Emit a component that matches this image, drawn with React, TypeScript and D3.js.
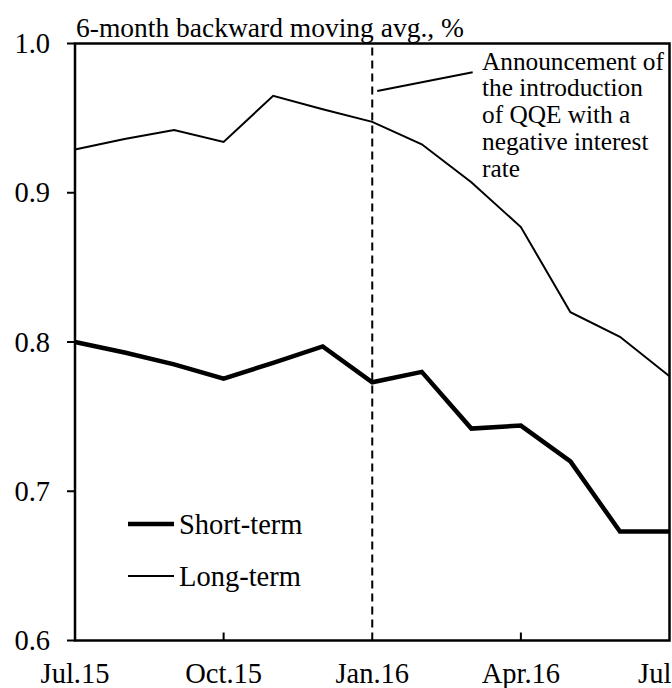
import React from "react";
import * as d3 from "d3";

const months = ["Jul.15","Aug.15","Sep.15","Oct.15","Nov.15","Dec.15","Jan.16","Feb.16","Mar.16","Apr.16","May.16","Jun.16","Jul.16"];
const shortTerm = [0.800, 0.793, 0.785, 0.7755, 0.786, 0.797, 0.773, 0.780, 0.742, 0.744, 0.720, 0.673, 0.673];
const longTerm = [0.929, 0.936, 0.942, 0.934, 0.965, 0.956, 0.9475, 0.9325, 0.907, 0.877, 0.820, 0.8035, 0.777];
const xTickIdx = [0, 3, 6, 9, 12];
const xTickLabels = ["Jul.15", "Oct.15", "Jan.16", "Apr.16", "Jul.16"];
const yTicks = [0.6, 0.7, 0.8, 0.9, 1.0];
const title = "6-month backward moving avg., %";
const annotationLines = ["Announcement of", "the introduction", "of QQE with a", "negative interest", "rate"];
const eventIdx = 6;
const legendItems = [
  { label: "Short-term", width: 4.5 },
  { label: "Long-term", width: 2 },
];

const W = 672, H = 688;
const FONT = "Liberation Serif, Times New Roman, serif";

export default function App() {
  const x = d3.scaleLinear().domain([0, 12]).range([75, 669.5]);
  const y = d3.scaleLinear().domain([0.6, 1.0]).range([640.5, 43.5]);
  const line = d3.line<number>().x((_, i) => x(i)).y((d) => y(d));
  const x0 = x(0), x1 = x(12), y0 = y(0.6), y1 = y(1.0);

  return (
    <svg width={W} height={H} style={{ position: "absolute", left: 0, top: 0, background: "#fff" }} fontFamily={FONT}>
      <rect x={0} y={0} width={W} height={H} fill="#fff" />
      <line x1={x(eventIdx)} x2={x(eventIdx)} y1={y1 + 4} y2={y0} stroke="#000" strokeWidth={2} strokeDasharray="8,5" />
      <path d={line(longTerm) || ""} fill="none" stroke="#000" strokeWidth={2} />
      <path d={line(shortTerm) || ""} fill="none" stroke="#000" strokeWidth={4.5} />
      <rect x={x0} y={y1} width={x1 - x0} height={y0 - y1} fill="none" stroke="#000" strokeWidth={2.5} />
      {yTicks.map((t) => (
        <g key={t}>
          <line x1={x0 - 8} x2={x0} y1={y(t)} y2={y(t)} stroke="#000" strokeWidth={2} />
          <text x={50} y={y(t)} dy="0.34em" textAnchor="end" fontSize={28.5}>{t.toFixed(1)}</text>
        </g>
      ))}
      {xTickIdx.map((i, k) => (
        <g key={i}>
          {i !== 0 && i !== 12 && i !== eventIdx && (
            <line x1={x(i)} x2={x(i)} y1={y0} y2={y0 - 8} stroke="#000" strokeWidth={2} />
          )}
          <text x={i === 12 ? x(i) + 3 : x(i)} y={683} textAnchor="middle" fontSize={28.5}>{xTickLabels[k]}</text>
        </g>
      ))}
      <text x={76} y={37} fontSize={27.5}>{title}</text>
      <line x1={x(eventIdx) + 5} y1={91} x2={472.7} y2={72.3} stroke="#000" strokeWidth={2} />
      {annotationLines.map((s, i) => (
        <text key={i} x={482} y={69.5 + i * 26.8} fontSize={25.3}>{s}</text>
      ))}
      {legendItems.map((it, i) => (
        <g key={it.label}>
          <line x1={128} x2={174} y1={524 + i * 52} y2={524 + i * 52} stroke="#000" strokeWidth={it.width} />
          <text x={179} y={534 + i * 52} fontSize={28.5}>{it.label}</text>
        </g>
      ))}
    </svg>
  );
}
